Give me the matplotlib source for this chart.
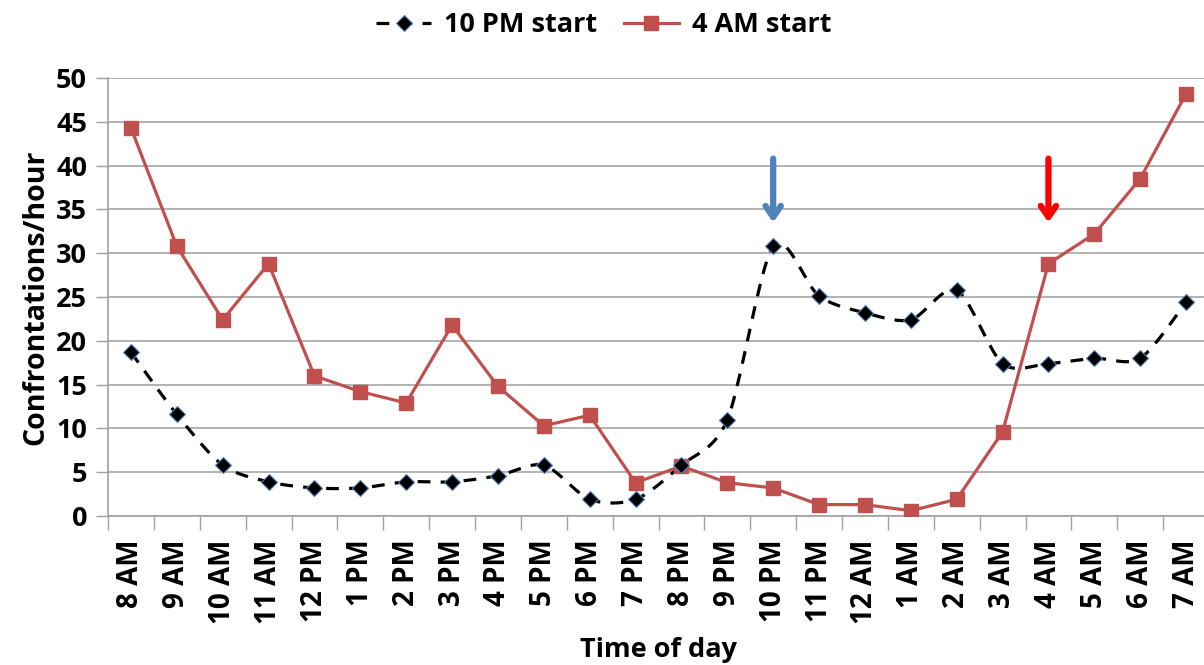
import numpy as np
import matplotlib
matplotlib.use("Agg")
import matplotlib.pyplot as plt
from matplotlib.lines import Line2D

plt.rcParams['font.family'] = ['Open Sans', 'DejaVu Sans']
plt.rcParams['font.weight'] = 'bold'

hours = ["8 AM", "9 AM", "10 AM", "11 AM", "12 PM", "1 PM", "2 PM", "3 PM", "4 PM", "5 PM",
         "6 PM", "7 PM", "8 PM", "9 PM", "10 PM", "11 PM", "12 AM", "1 AM", "2 AM", "3 AM",
         "4 AM", "5 AM", "6 AM", "7 AM"]
start_10pm = [18.7, 11.6, 5.8, 3.9, 3.2, 3.2, 3.9, 3.9, 4.6, 5.8, 1.9, 1.9,
              5.8, 11.0, 30.8, 25.1, 23.2, 22.4, 25.8, 17.4, 17.4, 18.0, 18.0, 24.4]
start_4am = [44.3, 30.8, 22.4, 28.8, 16.0, 14.2, 12.9, 21.8, 14.8, 10.3, 11.5, 3.8,
             5.7, 3.8, 3.2, 1.3, 1.3, 0.6, 1.9, 9.6, 28.8, 32.2, 38.5, 48.2]
arrow_idx = [14, 20]
arrow_colors = ["#4F81BD", "#FF0000"]
arrow_top, arrow_tip = 40.8, 33.5


def smooth(xs, ys, n=20, k=7.0):
    # Bezier smoothing through the points (like Excel "smoothed line"), drawing only
    xs = np.asarray(xs, float); ys = np.asarray(ys, float)
    px = np.concatenate([[xs[0]], xs, [xs[-1]]])
    py = np.concatenate([[ys[0]], ys, [ys[-1]]])
    ox, oy = [], []
    t = np.linspace(0, 1, n, endpoint=False)
    for i in range(1, len(px) - 2):
        p0 = np.array([px[i - 1], py[i - 1]]); p1 = np.array([px[i], py[i]])
        p2 = np.array([px[i + 1], py[i + 1]]); p3 = np.array([px[i + 2], py[i + 2]])
        c1 = p1 + (p2 - p0) / k
        c2 = p2 - (p3 - p1) / k
        b = ((1 - t)[:, None] ** 3 * p1 + 3 * ((1 - t) ** 2 * t)[:, None] * c1
             + 3 * ((1 - t) * t ** 2)[:, None] * c2 + (t ** 3)[:, None] * p2)
        ox.extend(b[:, 0]); oy.extend(b[:, 1])
    ox.append(xs[-1]); oy.append(ys[-1])
    return np.array(ox), np.array(oy)


fig = plt.figure(figsize=(12.04, 6.65), dpi=100)
W, H = 1204, 665
ax = fig.add_axes([108 / W, (H - 516) / H, (1209 - 108) / W, (516 - 78) / H])

x = np.arange(len(hours))
sx, sy = smooth(x, start_10pm)
ax.plot(sx, sy, color='black', lw=2.3, dashes=(4, 3.2), zorder=3)
ax.plot(x, start_10pm, ls='none', marker='D', ms=8, mfc='black', mec='#4F81BD', mew=0.8, zorder=4)
ax.plot(x, start_4am, color='#C0504D', lw=2.3, marker='s', ms=10.5, mfc='#C0504D', mec='#C0504D', zorder=3)

for i, c in zip(arrow_idx, arrow_colors):
    ax.annotate('', xy=(x[i], arrow_tip), xytext=(x[i], arrow_top),
                arrowprops=dict(arrowstyle='->,head_length=0.8,head_width=0.55', color=c, lw=4.5,
                                shrinkA=0, shrinkB=0),
                zorder=5)

ax.set_xlim(-0.5, len(hours) - 0.5)
ax.set_ylim(0, 50)
ax.set_yticks(np.arange(0, 51, 5))
ax.set_yticklabels([str(v) for v in range(0, 51, 5)], fontsize=19.5, fontweight='bold')
ax.set_xticks(x)
ax.set_xticklabels(hours, rotation=90, fontsize=20, fontweight='bold')
ax.set_xticks(np.arange(-0.5, len(hours), 1), minor=True)
ax.tick_params(axis='x', which='major', length=0, pad=17)
ax.tick_params(axis='x', which='minor', length=10, width=1, color='#A0A0A0', direction='out')
ax.tick_params(axis='y', length=9, width=1, color='#A0A0A0', direction='out', pad=6)
ax.grid(axis='y', color='#A6A6A6', lw=1.2)
ax.set_axisbelow(True)
for s in ['top', 'right']:
    ax.spines[s].set_visible(False)
for s in ['left', 'bottom']:
    ax.spines[s].set_color('#A0A0A0')
    ax.spines[s].set_linewidth(1.2)

ax.set_ylabel('Confrontations/hour', fontsize=20.5, fontweight='bold', labelpad=4)
fig.text(658 / W, 1 - 650 / H, 'Time of day', ha='center', va='center', fontsize=19.5, fontweight='bold')

handles = [Line2D([], [], color='black', lw=2.3, dashes=(4, 3.2), marker='D', ms=8,
                  mfc='black', mec='#4F81BD', mew=0.8),
           Line2D([], [], color='#C0504D', lw=2.3, marker='s', ms=10.5, mfc='#C0504D', mec='#C0504D')]
fig.legend(handles, ['10 PM start', '4 AM start'], loc='center', bbox_to_anchor=(604 / W, 1 - 25 / H),
           ncol=2, frameon=False, prop={'size': 19.5, 'weight': 'bold'}, handlelength=2.0,
           columnspacing=1.0, handletextpad=0.5)

fig.savefig('out.png', dpi=100)
